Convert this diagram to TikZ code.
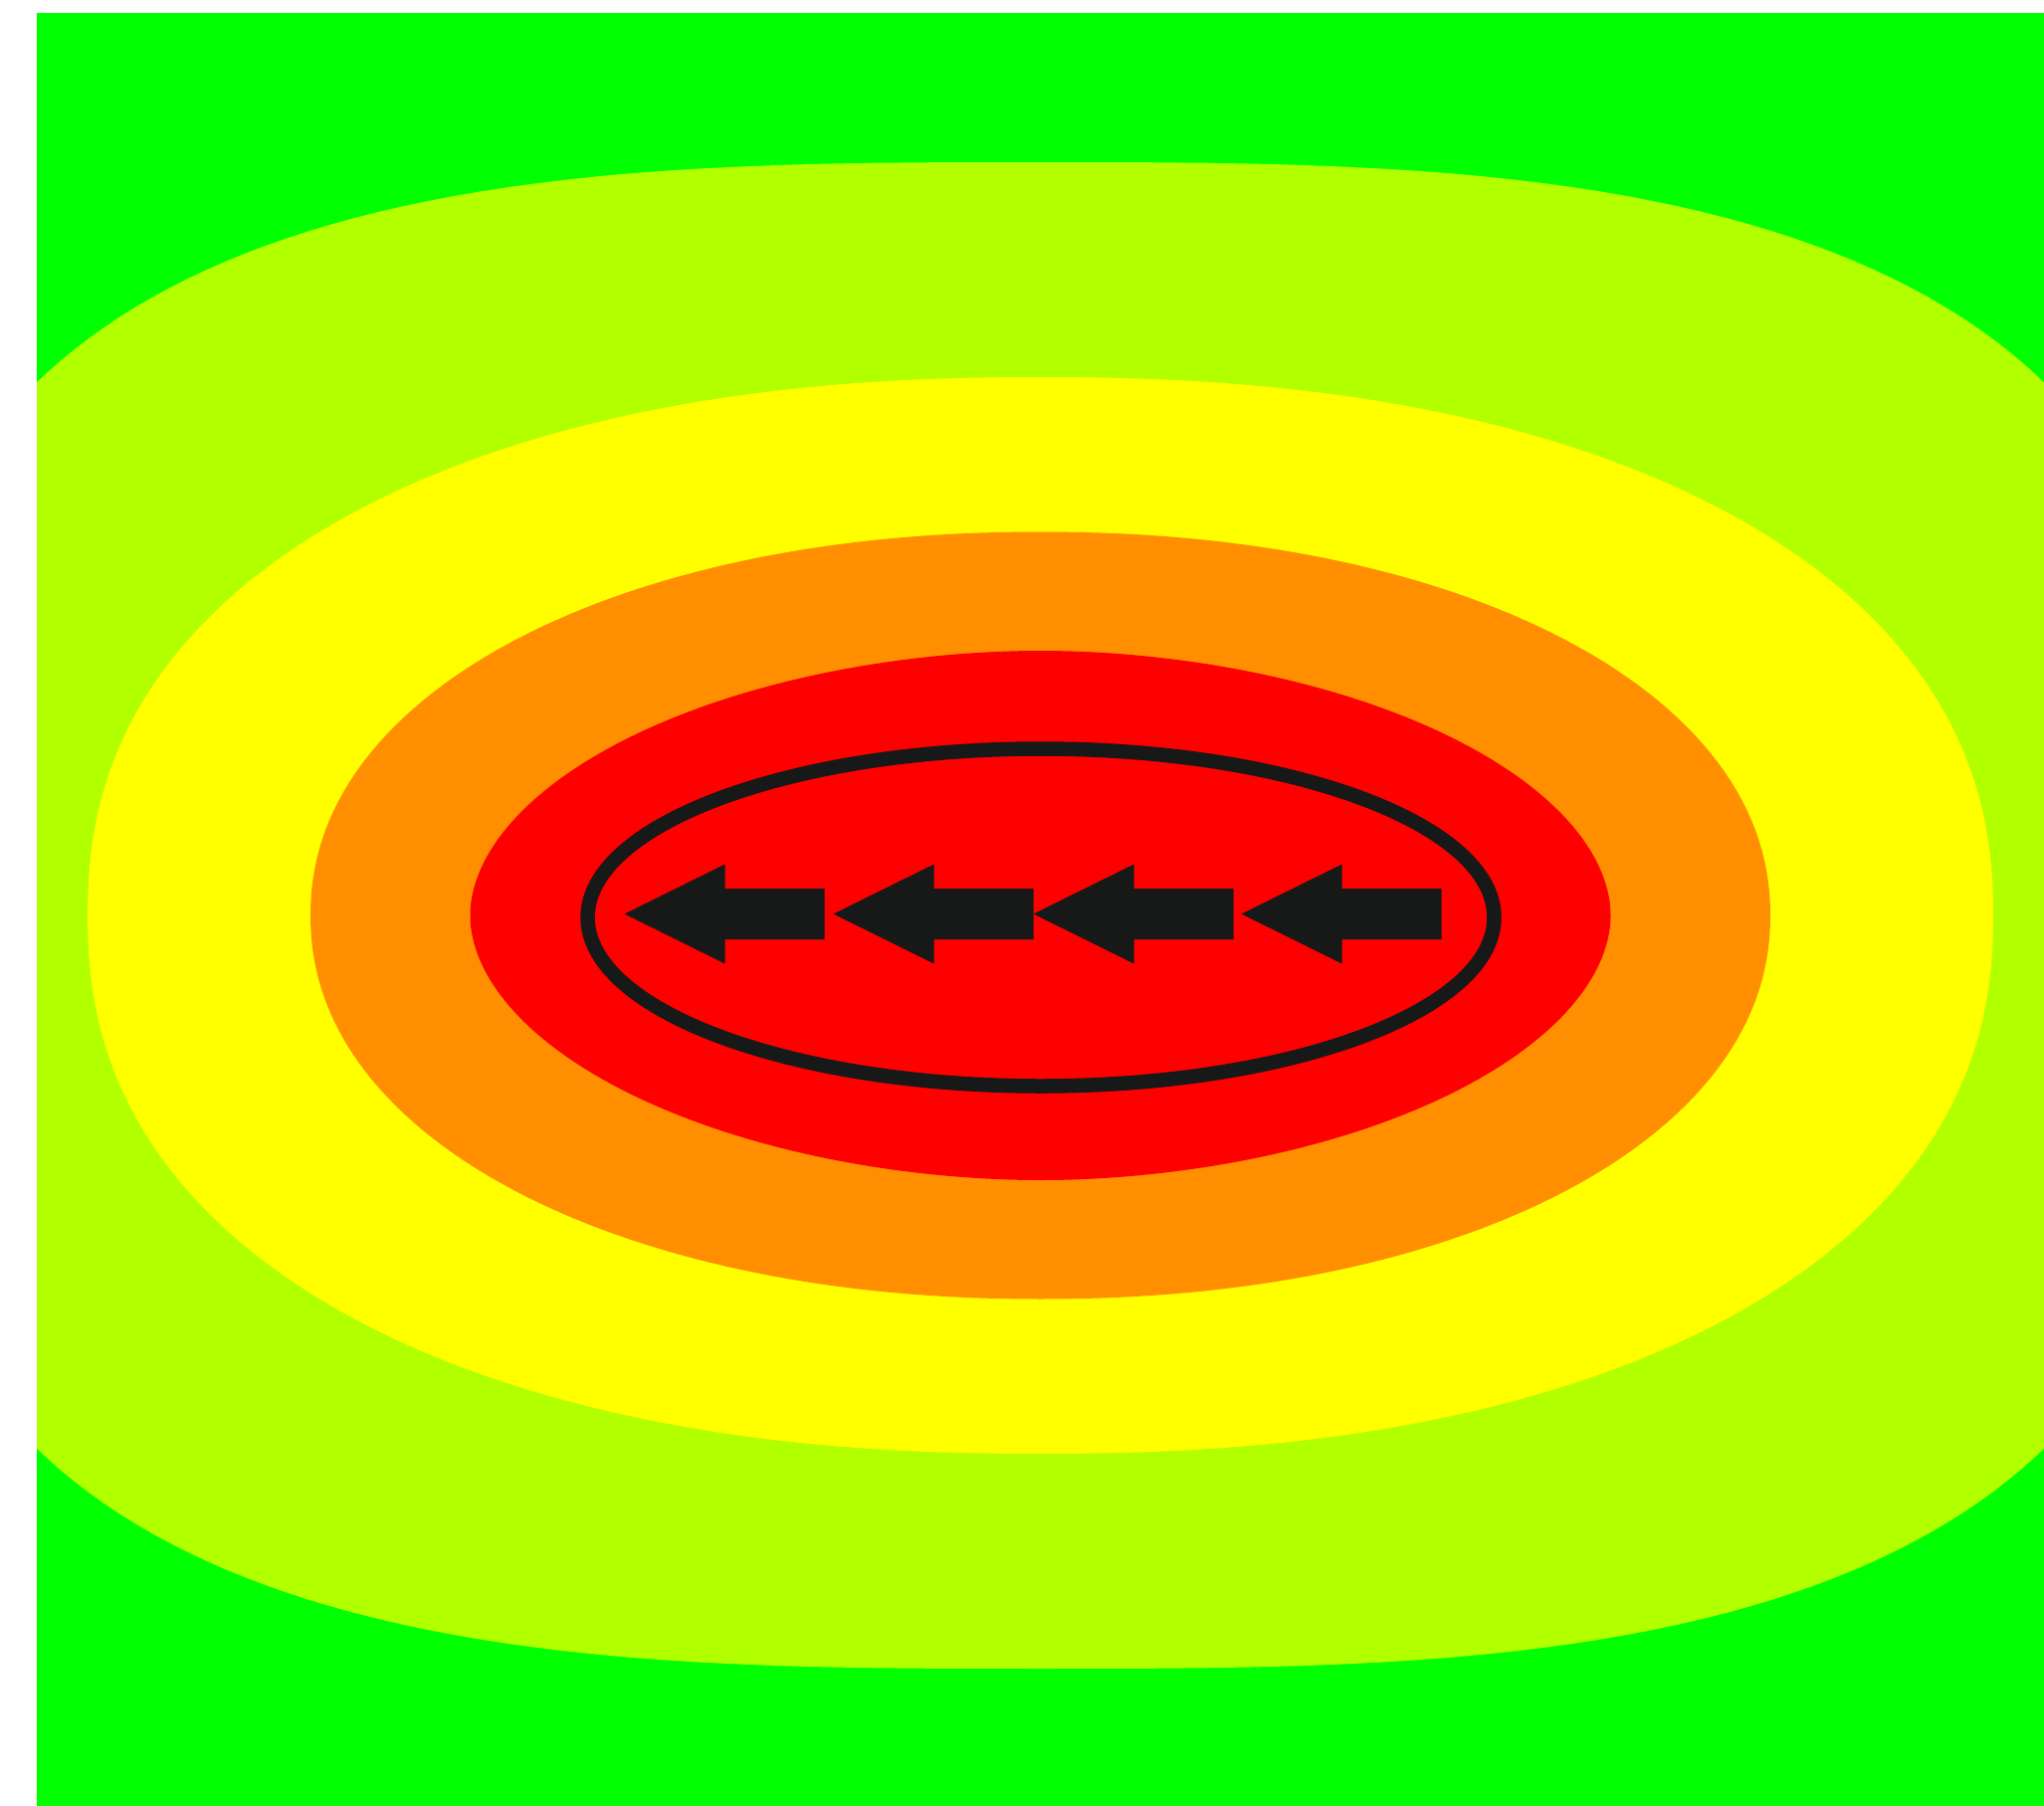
\documentclass[tikz,border=0pt]{standalone}
\definecolor{cgreen}{RGB}{0,255,0}
\definecolor{clime}{RGB}{178,255,0}
\definecolor{cyellow}{RGB}{255,255,0}
\definecolor{corange}{RGB}{255,143,0}
\definecolor{cred}{RGB}{255,0,0}
\definecolor{cblack}{RGB}{23,25,24}
\newcommand{\supell}[3]{plot[domain=0:360, samples=241, variable=\t] ({#1*cos(\t)*pow(abs(cos(\t))+0.00001,2/#3-1)}, {#2*sin(\t)*pow(abs(sin(\t))+0.00001,2/#3-1)}) -- cycle}
\tikzset{
  barrow/.pic={\fill[cblack] (0,0) -- (101,-50) -- (101,-25.5) -- (201,-25.5) -- (201,25.5) -- (101,25.5) -- (101,50) -- cycle;}
}
\begin{document}
\begin{tikzpicture}[x=1pt,y=-1pt]
\useasboundingbox (0,0) rectangle (2054,1815);
\fill[white] (0,0) rectangle (2054,1815);
\fill[cgreen] (37,13) rectangle (2054,1815);
\begin{scope}
\clip (37,13) rectangle (2054,1815);
\begin{scope}[shift={(1045.5,920)}]
\fill[clime] \supell{1167}{757}{3};
\fill[cyellow] \supell{957.5}{541}{2.25};
\fill[corange] \supell{733.5}{385.5}{2.1};
\fill[cred] \supell{573}{266}{1.92};
\end{scope}
\end{scope}
\draw[cblack, line width=14.5] (1046,922) ellipse [x radius=455.5, y radius=169.5];
\pic at (627.5,918.5) {barrow};
\pic at (837.5,918.5) {barrow};
\pic at (1038.5,918.5) {barrow};
\pic at (1247.5,918.5) {barrow};
\end{tikzpicture}
\end{document}
